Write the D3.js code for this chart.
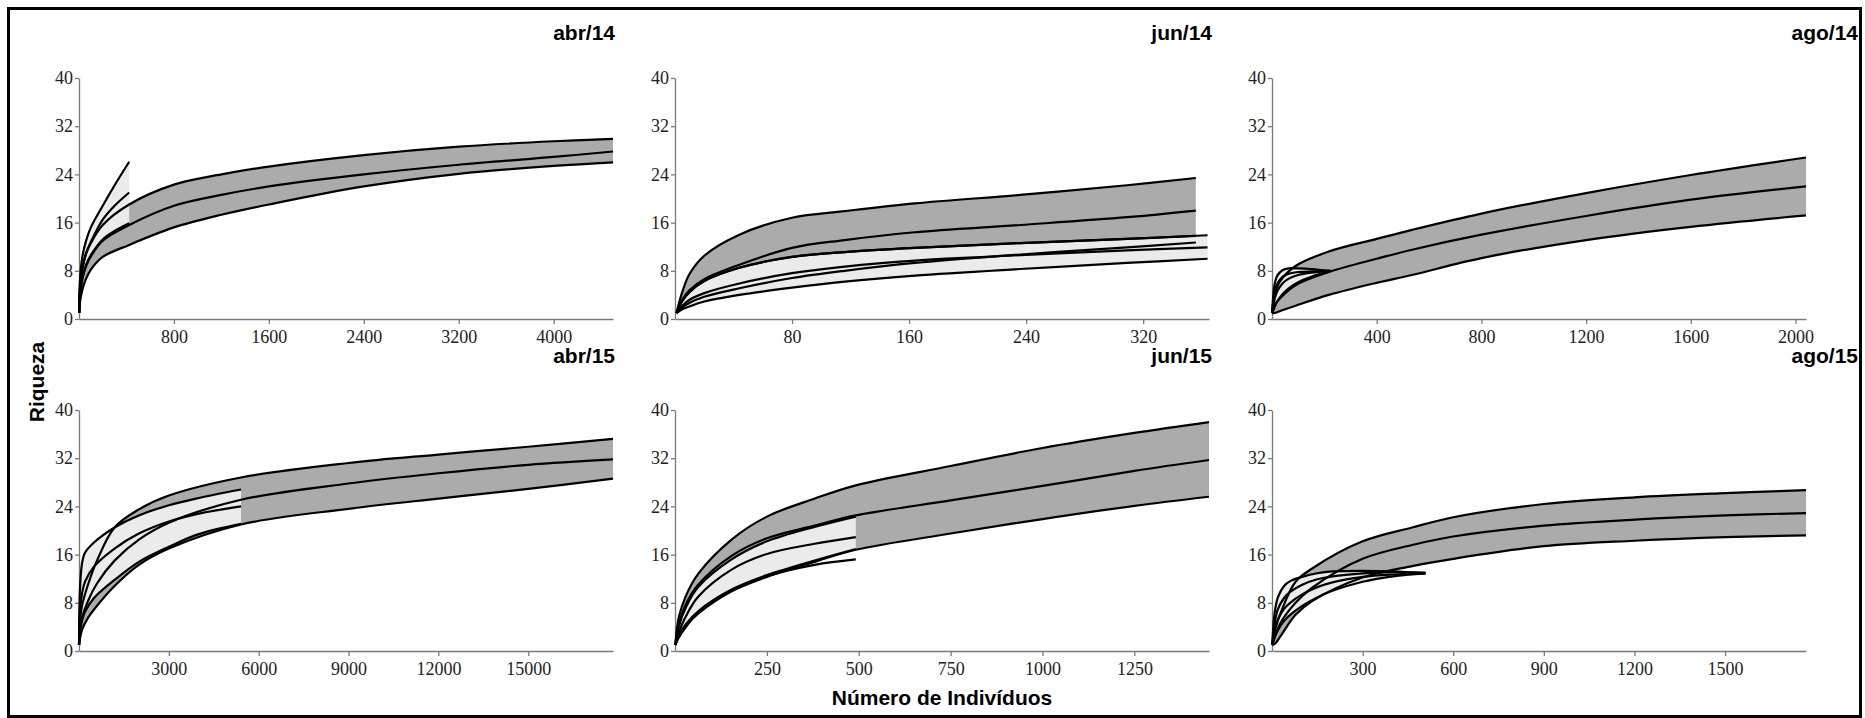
<!DOCTYPE html>
<html>
<head>
<meta charset="utf-8">
<script src="https://cdn.jsdelivr.net/npm/d3@7"></script>
<style>
  body { margin: 0; background: #fff; }
  .tick text { font-family: "Liberation Serif", "Times New Roman", serif; font-size: 18px; fill: #222; }
  .domain, .tick line { stroke: #7a7a7a; stroke-width: 1.3px; }
  .titulo { font-family: "Liberation Sans", Arial, sans-serif; font-weight: bold; font-size: 21px; }
</style>
</head>
<body>
<div id="chart"></div>
<script>
// riqueza rarefeita: limite superior, media, limite inferior
var yTicks = [0, 8, 16, 24, 32, 40];

// abr/14
var abr14Ticks = [800, 1600, 2400, 3200, 4000];
var abr14N     = [1, 10, 30, 60, 100, 200, 423, 800, 1200, 1600, 2400, 3200, 4000, 4500];
var abr14Sup   = [1, 5.5, 8.5, 10.8, 12.6, 15.6, 19.0, 22.3, 24.0, 25.3, 27.2, 28.6, 29.5, 29.9];
var abr14Med   = [1, 4.2, 6.8, 8.8, 10.4, 13.0, 15.6, 18.8, 20.6, 22.0, 24.0, 25.6, 26.9, 27.8];
var abr14Inf   = [1, 3.0, 5.0, 6.7, 8.2, 10.3, 12.3, 15.2, 17.3, 19.0, 22.0, 24.1, 25.4, 26.0];
var abr14LN    = [1, 10, 30, 60, 100, 200, 300, 423];
var abr14LSup  = [1, 7.0, 10.5, 13.0, 15.2, 18.8, 22.2, 26.1];
var abr14LMed  = [1, 5.5, 8.5, 11.0, 12.8, 16.5, 18.8, 21.0];
var abr14LInf  = [1, 4.4, 7.0, 9.0, 10.6, 13.2, 14.6, 15.9];

// jun/14
var jun14Ticks = [80, 160, 240, 320];
var jun14N     = [1, 5, 10, 20, 44, 80, 116, 164, 236, 309, 356];
var jun14Sup   = [1, 4.5, 7.5, 10.5, 14.0, 16.8, 17.9, 19.2, 20.6, 22.2, 23.4];
var jun14Med   = [1, 3.2, 4.8, 6.6, 9.0, 11.8, 13.1, 14.4, 15.6, 16.9, 18.0];
var jun14Inf   = [1, 3.0, 4.5, 6.3, 8.5, 10.3, 11.1, 11.8, 12.6, 13.3, 13.8];
var jun14LN    = [1, 5, 10, 20, 44, 80, 116, 164, 236, 309, 364];
var jun14LSup  = [1, 3.0, 4.5, 6.3, 8.5, 10.3, 11.1, 11.8, 12.6, 13.3, 13.9];
var jun14LMed  = [1, 2.2, 3.2, 4.3, 5.9, 7.6, 8.7, 9.7, 10.6, 11.4, 11.9];
var jun14LInf  = [1, 1.6, 2.1, 2.9, 4.0, 5.2, 6.2, 7.2, 8.3, 9.3, 10.0];
var jun14XN    = [1, 5, 10, 20, 44, 80, 116, 164, 236, 309, 356];
var jun14X     = [1, 1.9, 2.7, 3.7, 5.1, 6.8, 8.0, 9.3, 10.7, 11.9, 12.7];

// ago/14
var ago14Ticks = [400, 800, 1200, 1600, 2000];
var ago14N     = [1, 10, 30, 90, 217, 400, 535, 800, 1200, 1600, 2040];
var ago14Sup   = [1, 4.0, 6.2, 8.8, 11.2, 13.3, 14.8, 17.5, 20.9, 23.9, 26.8];
var ago14Med   = [1, 2.3, 3.4, 5.6, 7.8, 10.0, 11.5, 14.0, 17.1, 19.8, 22.0];
var ago14Inf   = [1, 1.0, 1.3, 2.2, 4.0, 6.0, 7.3, 10.1, 13.1, 15.3, 17.2];
var ago14LN    = [1, 5, 10, 20, 40, 64, 100, 150, 223];
var ago14LSup  = [1, 4.0, 5.8, 7.2, 8.1, 8.4, 8.4, 8.3, 8.0];
var ago14LMed  = [1, 2.3, 3.3, 4.6, 5.9, 6.7, 7.3, 7.7, 8.0];
var ago14LInf  = [1, 1.4, 2.0, 2.9, 4.1, 5.1, 6.1, 7.0, 7.9];
var ago14X     = [1, 3.0, 4.4, 5.8, 7.0, 7.5, 7.8, 7.9, 8.0];

// abr/15
var abr15Ticks = [3000, 6000, 9000, 12000, 15000];
var abr15N     = [1, 30, 100, 300, 600, 1187, 2000, 3000, 5411, 9000, 12000, 15000, 17830];
var abr15Sup   = [1, 5.0, 7.5, 11.0, 15.0, 20.5, 23.5, 25.8, 28.8, 31.2, 32.6, 33.9, 35.2];
var abr15Med   = [1, 3.5, 5.5, 8.3, 11.2, 15.0, 18.5, 21.3, 25.1, 27.8, 29.5, 30.9, 31.8];
var abr15Inf   = [1, 2.0, 3.5, 5.5, 7.5, 10.8, 14.3, 17.0, 21.0, 23.6, 25.3, 26.9, 28.6];
var abr15LN    = [1, 30, 100, 200, 500, 1187, 2000, 3000, 4000, 5411];
var abr15LSup  = [1, 10.0, 14.5, 16.3, 18.0, 20.5, 22.5, 24.2, 25.4, 26.8];
var abr15LMed  = [1, 6.0, 9.5, 11.5, 14.0, 17.0, 19.5, 21.5, 22.8, 24.0];
var abr15LInf  = [1, 3.0, 5.0, 6.5, 8.8, 11.8, 14.8, 17.3, 19.4, 21.1];

// jun/15
var jun15Ticks = [250, 500, 750, 1000, 1250];
var jun15N     = [1, 10, 30, 63, 154, 250, 380, 492, 750, 1000, 1250, 1453];
var jun15Sup   = [1, 5.5, 9.2, 12.8, 18.5, 22.3, 25.3, 27.5, 30.7, 33.7, 36.2, 38.0];
var jun15Med   = [1, 4.3, 7.8, 11.0, 15.8, 18.7, 20.8, 22.5, 25.0, 27.4, 29.9, 31.7];
var jun15Inf   = [1, 2.4, 4.2, 6.2, 9.9, 12.3, 14.8, 16.8, 19.5, 21.9, 24.1, 25.6];
var jun15LN    = [1, 10, 30, 63, 154, 250, 380, 492];
var jun15LSup  = [1, 4.0, 7.3, 10.6, 15.2, 18.2, 20.6, 22.3];
var jun15LMed  = [1, 3.0, 5.8, 9.0, 13.5, 16.1, 17.8, 18.9];
var jun15LInf  = [1, 2.6, 4.5, 6.6, 10.2, 12.6, 15.0, 16.9];
var jun15X     = [1, 2.2, 4.0, 6.4, 10.0, 12.4, 14.3, 15.2];

// ago/15
var ago15Ticks = [300, 600, 900, 1200, 1500];
var ago15N     = [1, 10, 30, 78, 133, 300, 464, 600, 900, 1200, 1500, 1768];
var ago15Sup   = [1, 3.5, 6.5, 11.5, 13.7, 18.2, 20.5, 22.2, 24.4, 25.5, 26.2, 26.7];
var ago15Med   = [1, 2.5, 4.8, 8.0, 10.5, 15.3, 17.6, 19.0, 20.8, 21.8, 22.5, 22.9];
var ago15Inf   = [1, 1.2, 2.6, 6.0, 8.3, 12.2, 14.1, 15.3, 17.4, 18.3, 18.9, 19.2];
var ago15LN    = [1, 5, 10, 20, 40, 60, 100, 150, 200, 300, 400, 508];
var ago15LSup  = [1, 4.5, 6.8, 9.0, 10.8, 11.6, 12.3, 12.9, 13.2, 13.3, 13.2, 12.9];
var ago15LMed  = [1, 2.5, 3.8, 5.3, 7.0, 8.0, 9.4, 10.6, 11.4, 12.3, 12.7, 12.9];
var ago15LInf  = [1, 1.6, 2.4, 3.5, 5.0, 6.0, 7.5, 8.9, 10.0, 11.5, 12.4, 12.9];
var ago15X     = [1, 3.2, 5.0, 7.0, 8.8, 9.8, 11.0, 11.9, 12.4, 12.9, 13.1, 13.0];

function band(n, sup, med, inf){
  return n.map(function(d, i){ return {n: d, sup: sup[i], med: med[i], inf: inf[i]}; });
}
function line(n, v){
  return n.map(function(d, i){ return {n: d, v: v[i]}; });
}

var panels = [
  {title: "abr/14", row: 0, col: 0, xmax: 4500, ticks: abr14Ticks,
   gray: band(abr14N, abr14Sup, abr14Med, abr14Inf),
   light: [band(abr14LN, abr14LSup, abr14LMed, abr14LInf)], extra: []},
  {title: "jun/14", row: 0, col: 1, xmax: 365, ticks: jun14Ticks,
   gray: band(jun14N, jun14Sup, jun14Med, jun14Inf),
   light: [band(jun14LN, jun14LSup, jun14LMed, jun14LInf)], extra: [line(jun14XN, jun14X)]},
  {title: "ago/14", row: 0, col: 2, xmax: 2040, ticks: ago14Ticks,
   gray: band(ago14N, ago14Sup, ago14Med, ago14Inf),
   light: [band(ago14LN, ago14LSup, ago14LMed, ago14LInf)], extra: [line(ago14LN, ago14X)]},
  {title: "abr/15", row: 1, col: 0, xmax: 17830, ticks: abr15Ticks,
   gray: band(abr15N, abr15Sup, abr15Med, abr15Inf),
   light: [band(abr15LN, abr15LSup, abr15LMed, abr15LInf)], extra: []},
  {title: "jun/15", row: 1, col: 1, xmax: 1453, ticks: jun15Ticks,
   gray: band(jun15N, jun15Sup, jun15Med, jun15Inf),
   light: [band(jun15LN, jun15LSup, jun15LMed, jun15LInf)], extra: [line(jun15LN, jun15X)]},
  {title: "ago/15", row: 1, col: 2, xmax: 1768, ticks: ago15Ticks,
   gray: band(ago15N, ago15Sup, ago15Med, ago15Inf),
   light: [band(ago15LN, ago15LSup, ago15LMed, ago15LInf)], extra: [line(ago15LN, ago15X)]}
];

var W = 1865, H = 718;
var colX = [79, 675, 1272], panelW = 534;
var rowY = [319, 651], panelH = 241;
var titleRight = [615, 1212, 1858];
var curva = d3.curveCatmullRom.alpha(0.5);

var svg = d3.select("#chart").append("svg")
  .attr("width", W)
  .attr("height", H);

svg.append("rect")
  .attr("x", 8.5).attr("y", 8.5)
  .attr("width", 1852).attr("height", 708)
  .attr("fill", "none")
  .attr("stroke", "#000")
  .attr("stroke-width", 3);

panels.forEach(function(p){
  var x0 = colX[p.col], y0 = rowY[p.row];
  var x = d3.scaleLinear().domain([0, p.xmax]).range([x0, x0 + panelW]);
  var y = d3.scaleLinear().domain([0, 40]).range([y0, y0 - panelH]);

  var g = svg.append("g");

  var area = d3.area()
    .x(function(d){ return x(d.n); })
    .y0(function(d){ return y(d.inf); })
    .y1(function(d){ return y(d.sup); })
    .curve(curva);
  var mk = function(key){
    return d3.line()
      .x(function(d){ return x(d.n); })
      .y(function(d){ return y(d[key]); })
      .curve(curva);
  };

  g.append("path").datum(p.gray).attr("d", area).attr("fill", "#ababab");
  p.light.forEach(function(b){
    g.append("path").datum(b).attr("d", area).attr("fill", "#ebebeb");
  });

  // eixos
  g.append("g")
    .attr("transform", "translate(" + x0 + ",0)")
    .call(d3.axisLeft(y).tickValues(yTicks).tickFormat(d3.format("d"))
      .tickSize(4).tickSizeOuter(0).tickPadding(2));
  g.append("g")
    .attr("transform", "translate(0," + y0 + ")")
    .call(d3.axisBottom(x).tickValues(p.ticks).tickFormat(d3.format("d"))
      .tickSize(5).tickSizeOuter(0).tickPadding(6));

  var bands = [p.gray].concat(p.light);
  bands.forEach(function(b){
    ["sup", "med", "inf"].forEach(function(k){
      g.append("path").datum(b).attr("d", mk(k))
        .attr("fill", "none").attr("stroke", "#000").attr("stroke-width", 2.2);
    });
  });
  p.extra.forEach(function(l){
    g.append("path").datum(l).attr("d", mk("v"))
      .attr("fill", "none").attr("stroke", "#000").attr("stroke-width", 2.2);
  });

  g.append("text")
    .attr("class", "titulo")
    .attr("x", titleRight[p.col])
    .attr("y", p.row === 0 ? 40 : 363)
    .attr("text-anchor", "end")
    .text(p.title);
});

svg.append("text")
  .attr("class", "titulo")
  .attr("x", 942).attr("y", 705)
  .attr("text-anchor", "middle")
  .text("Número de Indivíduos");

svg.append("text")
  .attr("class", "titulo")
  .attr("transform", "translate(44,382) rotate(-90)")
  .attr("text-anchor", "middle")
  .text("Riqueza");
</script>
</body>
</html>
